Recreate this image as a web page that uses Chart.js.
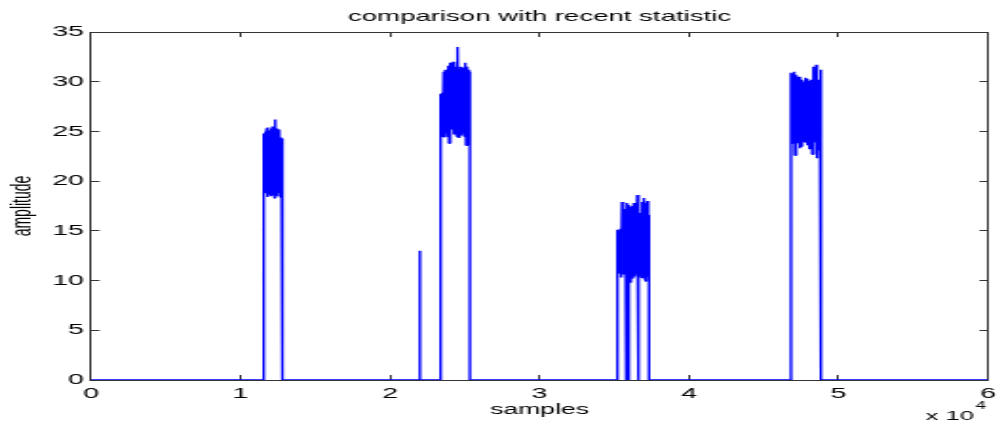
<!DOCTYPE html>
<html>
<head>
<meta charset="utf-8">
<title>comparison with recent statistic</title>
<script src="https://cdn.jsdelivr.net/npm/chart.js@4.4.1/dist/chart.umd.min.js"></script>
<style>
  html, body { margin: 0; padding: 0; background: #fff; overflow: hidden; }
  /* the reference figure was stretched sideways, so we draw narrow and stretch too */
  #wrap { width: 528px; height: 428px; transform: scaleX(1.9015); transform-origin: 0 0; }
</style>
</head>
<body>
<div id="wrap"><canvas id="chart"></canvas></div>
<script>
'use strict';

// tick labels
var xTicks = [0, 1, 2, 3, 4, 5, 6];          // x 10^4 samples
var yTicks = [0, 5, 10, 15, 20, 25, 30, 35];

// where each burst starts / ends (sample index)
var burstStart = [11550, 23380, 35180, 46820];
var burstEnd   = [12800, 25340, 37320, 48820];

// the lone spike
var spikeSample = 22000;
var spikeAmp = 13;

// upper and lower swings of every burst, left to right
var burst1Hi = [24.8, 25.0, 25.3, 25.4, 25.1, 25.3, 25.5, 25.2, 26.2, 25.3, 25.0, 25.2, 24.4, 24.3];
var burst1Lo = [18.9, 18.8, 18.4, 18.7, 18.9, 18.5, 18.6, 18.3, 18.7, 18.5, 18.8, 18.4, 18.6];

var burst2Hi = [28.8, 28.9, 31.0, 31.2, 31.0, 31.6, 31.9, 31.3, 32.0, 31.2, 31.5, 33.5, 31.3, 31.5, 31.4, 31.2, 31.9, 31.5, 31.2, 31.0];
var burst2Lo = [24.5, 24.6, 24.4, 24.8, 24.5, 23.8, 24.6, 25.2, 24.7, 24.9, 24.5, 24.4, 25.0, 24.6, 24.8, 24.5, 23.6, 24.4, 24.6];

var burst3Hi = [15.1, 15.0, 15.2, 17.9, 17.6, 17.2, 17.8, 17.6, 17.4, 17.5, 17.8, 17.6, 18.6, 17.3, 16.8, 17.9, 18.3, 17.8, 18.0, 16.6];
var burst3Lo = [10.5, 10.7, 10.3, 10.6, 10.8, 0, 0, 9.9, 9.8, 10.2, 10.4, 10.6, 0, 10.5, 10.3, 10.9, 10.2, 9.9, 10.4];

var burst4Hi = [30.9, 30.8, 31.0, 30.7, 30.5, 30.0, 30.5, 30.2, 30.0, 30.4, 30.3, 29.9, 30.1, 30.2, 31.5, 30.6, 31.7, 30.2, 30.1, 31.2];
var burst4Lo = [23.8, 23.9, 22.6, 23.7, 23.8, 23.3, 23.5, 24.2, 24.0, 23.9, 23.6, 23.2, 23.4, 22.7, 23.6, 23.9, 22.3, 23.1, 23.5];

var burstHi = [burst1Hi, burst2Hi, burst3Hi, burst4Hi];
var burstLo = [burst1Lo, burst2Lo, burst3Lo, burst4Lo];

// samples are evenly spaced inside a burst, high and low take turns
function burstPoints(start, end, hi, lo) {
  var pts = [{x: start, y: 0}];
  var n = hi.length + lo.length;
  var step = (end - start) / (n - 1);
  for (var i = 0; i < n; i++) {
    var v = (i % 2 === 0) ? hi[i / 2] : lo[(i - 1) / 2];
    pts.push({x: start + i * step, y: v});
  }
  pts.push({x: end, y: 0});
  return pts;
}

var signal = [{x: 0, y: 0}];
signal = signal.concat(burstPoints(burstStart[0], burstEnd[0], burstHi[0], burstLo[0]));
signal.push({x: spikeSample, y: 0}, {x: spikeSample, y: spikeAmp}, {x: spikeSample, y: 0});
for (var b = 1; b < burstStart.length; b++)
  signal = signal.concat(burstPoints(burstStart[b], burstEnd[b], burstHi[b], burstLo[b]));
signal.push({x: 60000, y: 0});

var FONT = '"Liberation Sans", Arial, sans-serif';
var AXIS = '#333';

// the "x 10^4" multiplier under the right end of the x axis
var exponentLabel = {
  id: 'exponentLabel',
  afterDraw: function(chart) {
    var ctx = chart.ctx, area = chart.chartArea;
    ctx.save();
    ctx.fillStyle = '#000';
    ctx.textBaseline = 'middle';
    ctx.font = '13.5px ' + FONT;
    ctx.textAlign = 'right';
    ctx.fillText('x 10', area.right - 7.3, area.bottom + 36);
    ctx.font = '10px ' + FONT;
    ctx.textAlign = 'left';
    ctx.fillText(String(4), area.right - 6.5, area.bottom + 26);
    ctx.restore();
  }
};

// box axes with ticks pointing inward, matlab style
function boxGrid(len) {
  return { drawOnChartArea: false, tickLength: len, color: AXIS, lineWidth: 1 };
}

// keep the plot box where the reference has it
function noPad(scale) {
  scale.paddingLeft = 0;
  scale.paddingRight = 0;
  scale.paddingTop = 0;
  scale.paddingBottom = 0;
}

new Chart(document.getElementById('chart'), {
  type: 'line',
  data: {
    datasets: [{
      data: signal,
      borderColor: '#0000ff',
      borderWidth: 1.4,
      borderJoinStyle: 'bevel',
      pointRadius: 0,
      tension: 0,
      fill: false
    }]
  },
  options: {
    responsive: true,
    maintainAspectRatio: false,
    animation: false,
    layout: { padding: 0 },
    plugins: {
      legend: { display: false },
      tooltip: { enabled: false },
      title: {
        display: true,
        fullSize: false,
        text: 'comparison with recent statistic',
        color: '#000',
        font: { family: FONT, size: 14.5, weight: 'normal', lineHeight: 1.2 },
        padding: { top: 8.3, bottom: 6.3 }
      }
    },
    scales: {
      x: {
        type: 'linear',
        position: 'bottom',
        min: xTicks[0] * 10000,
        max: xTicks[xTicks.length - 1] * 10000,
        afterBuildTicks: function(scale) {
          scale.ticks = xTicks.map(function(t) { return {value: t * 10000}; });
        },
        ticks: {
          color: '#000',
          font: { family: FONT, size: 15 },
          padding: 10,
          maxRotation: 0,
          autoSkip: false,
          callback: function(v) { return v / 10000; }
        },
        grid: boxGrid(-5),
        border: { color: AXIS, width: 1 },
        title: {
          display: true,
          text: 'samples',
          color: '#000',
          font: { family: FONT, size: 14 },
          padding: { top: 0, bottom: 9.3 }
        },
        afterFit: function(scale) { scale.height = 48; noPad(scale); }
      },
      x2: {
        type: 'linear',
        axis: 'x',
        position: 'top',
        min: xTicks[0] * 10000,
        max: xTicks[xTicks.length - 1] * 10000,
        afterBuildTicks: function(scale) {
          scale.ticks = xTicks.map(function(t) { return {value: t * 10000}; });
        },
        ticks: { display: false },
        grid: boxGrid(-5),
        border: { color: AXIS, width: 1 },
        afterFit: function(scale) { scale.height = 0; noPad(scale); }
      },
      y: {
        type: 'linear',
        position: 'left',
        min: yTicks[0],
        max: yTicks[yTicks.length - 1],
        afterBuildTicks: function(scale) {
          scale.ticks = yTicks.map(function(t) { return {value: t}; });
        },
        ticks: {
          color: '#000',
          font: { family: FONT, size: 15 },
          padding: 8.3
        },
        grid: boxGrid(-4.5),
        border: { color: AXIS, width: 1 },
        title: {
          display: true,
          text: 'amplitude',
          color: '#000',
          font: { family: FONT, size: 14 },
          padding: { top: 3.5, bottom: 0 }
        },
        afterFit: function(scale) { scale.width = 47.86; noPad(scale); }
      },
      y2: {
        type: 'linear',
        axis: 'y',
        position: 'right',
        min: yTicks[0],
        max: yTicks[yTicks.length - 1],
        afterBuildTicks: function(scale) {
          scale.ticks = yTicks.map(function(t) { return {value: t}; });
        },
        ticks: { display: false },
        grid: boxGrid(-4.5),
        border: { color: AXIS, width: 1 },
        afterFit: function(scale) { scale.width = 8.4; noPad(scale); }
      }
    }
  },
  plugins: [exponentLabel]
});
</script>
</body>
</html>
